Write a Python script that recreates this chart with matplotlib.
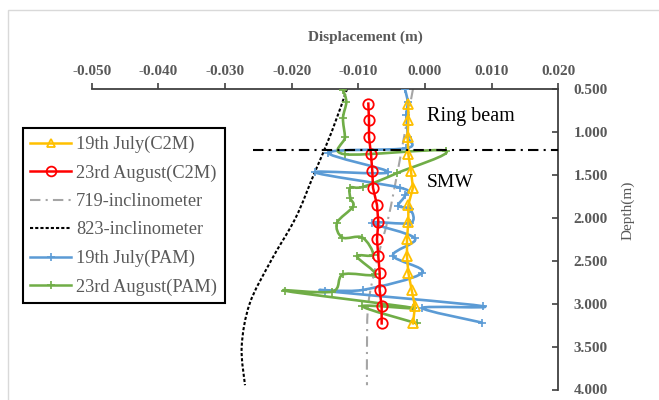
import numpy as np
import matplotlib.pyplot as plt
from matplotlib.path import Path
from matplotlib.patches import PathPatch, Rectangle
from matplotlib.lines import Line2D

plt.rcParams['font.family'] = ['Liberation Serif', 'DejaVu Serif']

# C2M results (depth in m, displacement in m)
c2m_depth = [0.67, 0.86, 1.06, 1.26, 1.46, 1.65, 1.85, 2.05, 2.25, 2.45, 2.64, 2.84, 3.03, 3.23]
july_c2m = [-0.0025, -0.0025, -0.0026, -0.0025, -0.0021, -0.0018, -0.0025,
            -0.0025, -0.0027, -0.0027, -0.0025, -0.0020, -0.0015, -0.0018]
aug_c2m = [-0.0085, -0.0084, -0.0084, -0.0081, -0.0079, -0.0078, -0.0072,
           -0.0070, -0.0072, -0.0070, -0.0068, -0.0068, -0.0065, -0.0065]

# inclinometer readings
incl_depth = [0.5, 1.0, 1.5, 2.0, 2.5, 3.0, 3.5, 3.95]
incl_719 = [-0.0018, -0.0030, -0.0042, -0.0055, -0.0072, -0.0085, -0.0087, -0.0087]
incl_823 = [-0.0117, -0.0140, -0.0167, -0.0194, -0.0231, -0.0263, -0.0275, -0.0270]

# PAM results
pam_july_depth = [0.50, 0.65, 0.80, 0.92, 1.06, 1.19, 1.24, 1.47, 1.47, 1.65, 1.74, 1.86,
                  1.90, 2.06, 2.06, 2.24, 2.44, 2.64, 2.84, 2.85, 3.03, 3.05, 3.22]
pam_july = [-0.0030, -0.0026, -0.0028, -0.0027, -0.0026, -0.0028, -0.0145, -0.0055,
            -0.0165, -0.0037, -0.0030, -0.0040, -0.0022, -0.0022, -0.0079, -0.0015,
            -0.0048, -0.0004, -0.0093, -0.0150, 0.0087, -0.0004, 0.0085]
pam_aug_depth = [0.51, 0.65, 0.84, 1.06, 1.26, 1.22, 1.48, 1.64, 1.65, 1.77, 1.87, 2.06,
                 2.23, 2.23, 2.43, 2.45, 2.66, 2.66, 2.86, 2.85, 3.05, 3.03, 3.23]
pam_aug = [-0.0123, -0.0118, -0.0123, -0.0120, -0.0120, 0.0031, -0.0042, -0.0093,
           -0.0112, -0.0112, -0.0108, -0.0132, -0.0124, -0.0094, -0.0078, -0.0102,
           -0.0075, -0.0123, -0.0139, -0.0210, -0.0018, -0.0094, -0.0012]

# ring beam / SMW boundary
boundary_x = [-0.0258, 0.02]
boundary_depth = [1.21, 1.21]

x_ticks = [-0.05, -0.04, -0.03, -0.02, -0.01, 0.0, 0.01, 0.02]
y_ticks = [0.5, 1.0, 1.5, 2.0, 2.5, 3.0, 3.5, 4.0]

YELLOW, RED, GRAY, BLUE, GREEN = '#FFC000', '#FF0000', '#A5A5A5', '#5B9BD5', '#70AD47'
TXT = '#595959'


def smooth_path(x, y):
    # Excel style smoothed line: Catmull-Rom segments as cubic Bezier curves
    pts = np.column_stack([x, y])
    p = np.vstack([pts[0], pts, pts[-1]])
    verts = [pts[0]]
    codes = [Path.MOVETO]
    for i in range(1, len(p) - 2):
        c1 = p[i] + (p[i + 1] - p[i - 1]) / 6
        c2 = p[i + 1] - (p[i + 2] - p[i]) / 6
        verts += [c1, c2, p[i + 1]]
        codes += [Path.CURVE4] * 3
    return Path(verts, codes)


fig = plt.figure(figsize=(6.59, 4.0), dpi=100)
ax = fig.add_axes([91.7 / 659, 1 - 389.5 / 400, (558.3 - 91.7) / 659, (389.5 - 89) / 400])

dash_dot = (0, (5, 2.5, 1, 2.5))
dotted = (0, (1.5, 1))

ax.add_patch(PathPatch(smooth_path(incl_719, incl_depth), fill=False, ec=GRAY, lw=1.5,
                       linestyle=dash_dot, zorder=2))
ax.add_patch(PathPatch(smooth_path(incl_823, incl_depth), fill=False, ec='black', lw=1.5,
                       linestyle=dotted, zorder=2))

ax.add_patch(PathPatch(smooth_path(pam_july, pam_july_depth), fill=False, ec=BLUE, lw=1.9,
                       zorder=3, capstyle='round', joinstyle='round'))
ax.plot(pam_july, pam_july_depth, ls='none', marker='+', ms=6, mew=1.2, color=BLUE, zorder=3)
ax.add_patch(PathPatch(smooth_path(pam_aug, pam_aug_depth), fill=False, ec=GREEN, lw=1.9,
                       zorder=3, capstyle='round', joinstyle='round'))
ax.plot(pam_aug, pam_aug_depth, ls='none', marker='+', ms=6, mew=1.2, color=GREEN, zorder=3)

ax.plot(aug_c2m, c2m_depth, color=RED, lw=1.8, marker='o', ms=7.5, mfc='none', mew=1.3, zorder=4)
ax.plot(july_c2m, c2m_depth, color=YELLOW, lw=1.8, marker='^', ms=6.5, mfc='none', mew=1.3, zorder=4)

ax.plot(boundary_x, boundary_depth, color='black', lw=1.5, linestyle=dash_dot, zorder=5)

ax.text(0.0003, 0.82, 'Ring beam', fontsize=14.5, va='center', ha='left')
ax.text(0.0003, 1.59, 'SMW', fontsize=14, va='center', ha='left')

ax.set_xlim(-0.05, 0.02)
ax.set_ylim(4.0, 0.5)
ax.set_xticks(x_ticks)
ax.set_yticks(y_ticks)
ax.set_xticklabels([f'{v:.3f}' for v in x_ticks])
ax.set_yticklabels([f'{v:.3f}' for v in y_ticks])
ax.xaxis.tick_top()
ax.yaxis.tick_right()
for side in ['left', 'bottom']:
    ax.spines[side].set_visible(False)
for side in ['top', 'right']:
    ax.spines[side].set_color('#404040')
    ax.spines[side].set_linewidth(1.3)
ax.tick_params(axis='x', direction='out', length=4, width=1.2, color='#404040',
               labelsize=11, labelcolor=TXT, pad=4)
ax.tick_params(axis='y', direction='in', length=4, width=1.2, color='#404040',
               labelsize=11, labelcolor=TXT, pad=11)
for lab in ax.get_xticklabels() + ax.get_yticklabels():
    lab.set_fontweight('bold')

fig.text(365 / 659, 1 - 37 / 400, 'Displacement (m)', fontsize=11, fontweight='bold',
         color=TXT, ha='center', va='center')
fig.text(628 / 659, 1 - 210 / 400, 'Depth(m)', fontsize=11, color=TXT, rotation=90,
         ha='center', va='center')

handles = [
    Line2D([], [], color=YELLOW, lw=1.8, marker='^', ms=6, mfc='none', mew=1.3, label='19th July(C2M)'),
    Line2D([], [], color=RED, lw=1.8, marker='o', ms=7, mfc='none', mew=1.3, label='23rd August(C2M)'),
    Line2D([], [], color=GRAY, lw=1.5, linestyle=dash_dot, label='719-inclinometer'),
    Line2D([], [], color='black', lw=1.5, linestyle=dotted, label='823-inclinometer'),
    Line2D([], [], color=BLUE, lw=1.8, marker='+', ms=6, mew=1.2, label='19th July(PAM)'),
    Line2D([], [], color=GREEN, lw=1.8, marker='+', ms=6, mew=1.2, label='23rd August(PAM)'),
]
leg = fig.legend(handles=handles, loc='upper left', bbox_to_anchor=(22.7 / 659, 1 - 128 / 400),
                 borderaxespad=0, fontsize=13.2, labelcolor=TXT, frameon=True, fancybox=False,
                 edgecolor='black', framealpha=1, handlelength=2.2, handletextpad=0.3,
                 labelspacing=0.62, borderpad=0.42)
leg.get_frame().set_linewidth(1.5)
leg.set_zorder(10)

fig.add_artist(Rectangle((8 / 659, -0.05), 1.0, 1.05 - 10 / 400, transform=fig.transFigure,
                         fill=False, ec='#d9d9d9', lw=1))

fig.savefig('out.png', dpi=100)
